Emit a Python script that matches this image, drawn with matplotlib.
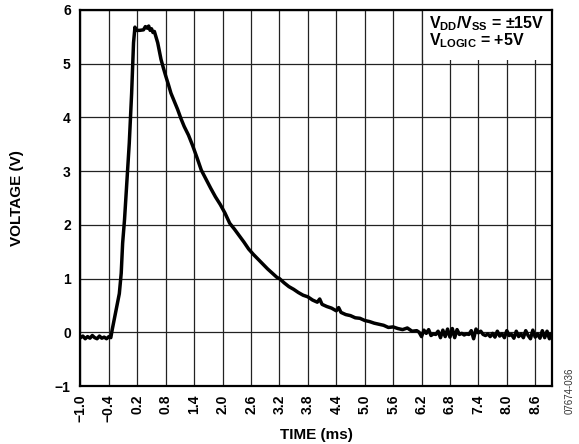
import numpy as np
import matplotlib
matplotlib.use('Agg')
import matplotlib.pyplot as plt
from matplotlib.patches import Rectangle

# ── Fonts ────────────────────────────────────────────────────────────
plt.rcParams['font.family'] = ['Liberation Sans', 'DejaVu Sans']
plt.rcParams['mathtext.fontset'] = 'custom'
plt.rcParams['mathtext.rm'] = 'Liberation Sans:bold'
plt.rcParams['mathtext.it'] = 'Liberation Sans:bold'
plt.rcParams['mathtext.bf'] = 'Liberation Sans:bold'
plt.rcParams['axes.unicode_minus'] = True

# ── Measured trace (ms, V) ───────────────────────────────────────────
time_base = [-1.00, -0.95, -0.90, -0.85, -0.80, -0.75, -0.70, -0.65, -0.60,
             -0.55, -0.50, -0.45, -0.40, -0.36]
volt_base = [-0.10, -0.07, -0.12, -0.08, -0.11, -0.06, -0.10, -0.12, -0.07,
             -0.11, -0.09, -0.12, -0.08, -0.10]

time_rise = [-0.33, -0.29, -0.24, -0.18, -0.14, -0.11, -0.07, -0.04, 0.00,
             0.03, 0.08, 0.12, 0.15]
volt_rise = [0.05, 0.23, 0.45, 0.72, 1.10, 1.66, 2.10, 2.52, 3.10,
             3.52, 4.45, 5.39, 5.68]

time_peak = [0.17, 0.25, 0.33, 0.37, 0.41, 0.44, 0.47, 0.50, 0.53, 0.56]
volt_peak = [5.62, 5.62, 5.63, 5.69, 5.66, 5.70, 5.62, 5.65, 5.58, 5.60]

time_decay = [0.63, 0.70, 0.75, 0.80, 0.86, 0.91, 0.98, 1.05, 1.12, 1.19,
              1.28, 1.37, 1.46, 1.55, 1.65, 1.75, 1.85, 1.95, 2.05, 2.15,
              2.25, 2.35, 2.45, 2.55, 2.65, 2.75, 2.85, 2.95, 3.05, 3.15,
              3.20, 3.30, 3.40, 3.50, 3.60, 3.70, 3.80, 3.90, 4.00, 4.05,
              4.10, 4.20, 4.30, 4.40, 4.45, 4.50, 4.60, 4.70, 4.80, 4.90,
              5.00, 5.10, 5.20, 5.30, 5.40, 5.50, 5.60, 5.70, 5.80, 5.90,
              6.00, 6.10]
volt_decay = [5.39, 5.08, 4.92, 4.77, 4.60, 4.45, 4.30, 4.15, 3.98, 3.83,
              3.67, 3.47, 3.25, 3.02, 2.85, 2.68, 2.52, 2.38, 2.22, 2.03,
              1.92, 1.80, 1.68, 1.55, 1.45, 1.36, 1.27, 1.18, 1.10, 1.02,
              1.00, 0.92, 0.85, 0.80, 0.74, 0.69, 0.66, 0.60, 0.56, 0.62,
              0.52, 0.48, 0.45, 0.40, 0.46, 0.37, 0.33, 0.31, 0.27, 0.26,
              0.22, 0.20, 0.17, 0.15, 0.13, 0.09, 0.10, 0.07, 0.05, 0.08,
              0.02, 0.03]

time_tail = [6.15, 6.20, 6.25, 6.30, 6.35, 6.40, 6.45, 6.50, 6.55, 6.60,
             6.65, 6.70, 6.75, 6.80, 6.85, 6.90, 6.95, 7.00, 7.05, 7.10,
             7.15, 7.20, 7.25, 7.30, 7.35, 7.40, 7.45, 7.50, 7.55, 7.60,
             7.65, 7.70, 7.75, 7.80, 7.85, 7.90, 7.95, 8.00, 8.05, 8.10,
             8.15, 8.20, 8.25, 8.30, 8.35, 8.40, 8.45, 8.50, 8.55, 8.60,
             8.65, 8.70, 8.75, 8.80, 8.85, 8.90, 8.93]
volt_tail = [0.00, -0.08, 0.04, -0.02, 0.05, -0.06, -0.03, -0.04, 0.02, -0.10,
             0.04, -0.08, 0.06, -0.09, 0.07, -0.10, 0.05, -0.04, -0.02, -0.05,
             -0.03, -0.04, 0.03, -0.12, 0.06, -0.01, 0.02, -0.04, -0.06, -0.03,
             -0.08, -0.02, -0.09, 0.02, -0.07, -0.03, -0.10, 0.03, -0.06, -0.04,
             -0.11, 0.02, -0.08, -0.03, -0.10, 0.03, -0.06, -0.12, 0.04, -0.09,
             -0.03, -0.11, 0.03, -0.10, 0.02, -0.12, -0.04]

time_ms = time_base + time_rise + time_peak + time_decay + time_tail
voltage = volt_base + volt_rise + volt_peak + volt_decay + volt_tail

x_ticks = [-1.0, -0.4, 0.2, 0.8, 1.4, 2.0, 2.6, 3.2, 3.8, 4.4, 5.0, 5.6,
           6.2, 6.8, 7.4, 8.0, 8.6]
y_ticks = [-1, 0, 1, 2, 3, 4, 5, 6]

# ── Figure ───────────────────────────────────────────────────────────
fig = plt.figure(figsize=(5.79, 4.44), dpi=100, facecolor='white')
ax = fig.add_axes([0.139, 0.1306, 0.814, 0.847])

ax.plot(time_ms, voltage, color='black', linewidth=2.5,
        solid_joinstyle='round', zorder=3)

ax.set_xlim(-1.0, 8.95)
ax.set_ylim(-1, 6)
ax.set_xticks(x_ticks)
ax.set_yticks(y_ticks)
ax.set_xticklabels([f'{v:.1f}'.replace('-', '\u2212') for v in x_ticks],
                   rotation=90, fontsize=10, fontweight='bold')
ax.set_yticklabels([f'{v}'.replace('-', '\u2212') for v in y_ticks],
                   fontsize=10, fontweight='bold')
ax.tick_params(axis='both', length=0)
ax.tick_params(axis='x', pad=6)
ax.tick_params(axis='y', pad=7)

ax.grid(True, color='#222222', linewidth=0.9)
for sp in ax.spines.values():
    sp.set_linewidth(1.6)
    sp.set_color('black')
    sp.set_zorder(4)

# white box behind the supply annotation
ax.add_patch(Rectangle((6.2, 5.06), 2.75, 0.94, facecolor='white',
                       edgecolor='none', zorder=2))
ax.plot([6.2, 6.2], [5.0, 6.0], color='#222222', linewidth=0.9, zorder=2.5)

ax.text(0.7396, 0.952, r'$V_{DD}/V_{SS}$ = ±15V', transform=ax.transAxes,
        fontsize=11.5, fontweight='bold', ha='left', va='baseline', zorder=5)
ax.text(0.7396, 0.905, r'$V_{LOGIC}$ = +5V', transform=ax.transAxes,
        fontsize=11.5, fontweight='bold', ha='left', va='baseline', zorder=5)

ax.set_xlabel('TIME (ms)', fontsize=11, fontweight='bold', labelpad=4)
ax.set_ylabel('VOLTAGE (V)', fontsize=11, fontweight='bold', labelpad=22)

fig.text(0.983, 0.12, '07674-036', rotation=90, fontsize=7,
         color='#333333', ha='center', va='center')

fig.savefig('out.png', dpi=100, facecolor='white')
